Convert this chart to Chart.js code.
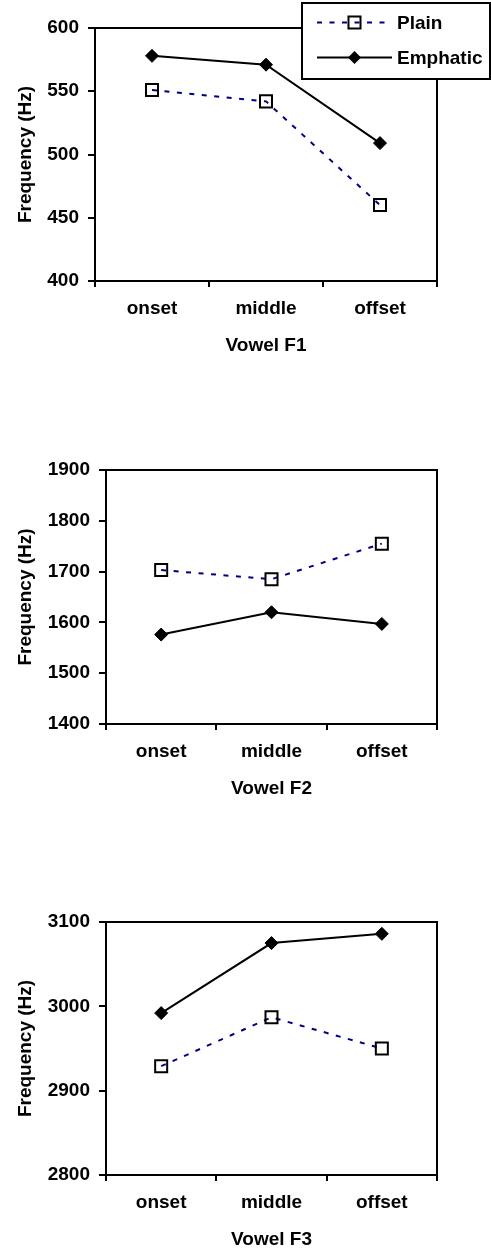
<!DOCTYPE html>
<html>
<head>
<meta charset="utf-8">
<script src="https://cdn.jsdelivr.net/npm/chart.js@4/dist/chart.umd.min.js"></script>
<style>
  html, body { margin: 0; padding: 0; background: #fff; }
  #wrap { position: relative; width: 491px; height: 1252px; overflow: hidden; }
  canvas { position: absolute; left: 0; }
</style>
</head>
<body>
<div id="wrap">
  <canvas id="f1" width="491" height="400" style="top:0px"></canvas>
  <canvas id="f2" width="491" height="410" style="top:420px"></canvas>
  <canvas id="f3" width="491" height="412" style="top:840px"></canvas>
</div>
<script>
// data
const categories = ["onset", "middle", "offset"];
const seriesNames = ["Plain", "Emphatic"];

const f1Plain = [551, 542, 460];
const f1Emphatic = [578, 571, 509];
const f2Plain = [1703, 1685, 1755];
const f2Emphatic = [1576, 1620, 1597];
const f3Plain = [2929, 2987, 2950];
const f3Emphatic = [2992, 3075, 3086];

const f1Ticks = { min: 400, max: 600, step: 50 };
const f2Ticks = { min: 1400, max: 1900, step: 100 };
const f3Ticks = { min: 2800, max: 3100, step: 100 };

const yTitle = "Frequency (Hz)";

Chart.defaults.font.family = "'Liberation Sans', Arial, sans-serif";
Chart.defaults.font.size = 19;
Chart.defaults.font.weight = "bold";
Chart.defaults.color = "#000";

// box around the plot area (top + right sides)
const framePlugin = {
  id: "frame",
  afterDraw(chart) {
    const { ctx, chartArea: a } = chart;
    ctx.save();
    ctx.strokeStyle = "#000";
    ctx.lineWidth = 2;
    ctx.strokeRect(a.left, a.top, a.right - a.left, a.bottom - a.top);
    ctx.restore();
  },
};

// legend box that sits over the top-right corner, like the original
const cornerLegend = {
  id: "cornerLegend",
  afterDraw(chart, args, opts) {
    const ctx = chart.ctx;
    ctx.save();
    ctx.fillStyle = "#fff";
    ctx.fillRect(opts.left, opts.top, opts.width, opts.height);
    ctx.strokeStyle = "#000";
    ctx.lineWidth = 2;
    ctx.strokeRect(opts.left, opts.top, opts.width, opts.height);

    chart.data.datasets.forEach((ds, i) => {
      const y = opts.rows[i];
      ctx.save();
      ctx.strokeStyle = ds.borderColor;
      ctx.lineWidth = ds.borderWidth;
      ctx.setLineDash(ds.borderDash || []);
      ctx.beginPath();
      ctx.moveTo(opts.lineFrom, y);
      ctx.lineTo(opts.lineTo, y);
      ctx.stroke();
      ctx.restore();

      const mx = (opts.lineFrom + opts.lineTo) / 2;
      ctx.beginPath();
      if (ds.pointStyle === "rect") {
        const s = ds.pointRadius * Math.SQRT1_2;
        ctx.rect(mx - s, y - s, 2 * s, 2 * s);
        ctx.lineWidth = ds.pointBorderWidth;
        ctx.strokeStyle = ds.pointBorderColor;
        ctx.stroke();
      } else {
        const r = ds.pointRadius;
        ctx.moveTo(mx, y - r);
        ctx.lineTo(mx + r, y);
        ctx.lineTo(mx, y + r);
        ctx.lineTo(mx - r, y);
        ctx.closePath();
        ctx.fillStyle = ds.pointBackgroundColor;
        ctx.fill();
      }

      ctx.fillStyle = "#000";
      ctx.textBaseline = "middle";
      ctx.textAlign = "left";
      ctx.font = "bold 19px 'Liberation Sans', Arial, sans-serif";
      ctx.fillText(ds.label, opts.textX, y + 1);
    });
    ctx.restore();
  },
};

function makeDatasets(plain, emphatic) {
  return [
    {
      label: seriesNames[0],
      data: plain,
      borderColor: "#000080",
      borderWidth: 2,
      borderDash: [5, 7.5],
      pointStyle: "rect",
      pointRadius: 8.5,
      pointBorderWidth: 2,
      pointBorderColor: "#000",
      pointBackgroundColor: "rgba(0,0,0,0)",
      tension: 0,
    },
    {
      label: seriesNames[1],
      data: emphatic,
      borderColor: "#000",
      borderWidth: 2,
      pointStyle: "rectRot",
      pointRadius: 6.5,
      pointBorderWidth: 1,
      pointBorderColor: "#000",
      pointBackgroundColor: "#000",
      tension: 0,
    },
  ];
}

// box = plot area in canvas pixels
function makeChart(id, plain, emphatic, ticks, xTitle, box, withLegend) {
  const canvas = document.getElementById(id);
  const h = canvas.height;
  const xHeight = 76;
  const plugins = [framePlugin];
  if (withLegend) plugins.push(cornerLegend);

  return new Chart(canvas, {
    type: "line",
    data: { labels: categories, datasets: makeDatasets(plain, emphatic) },
    plugins,
    options: {
      responsive: false,
      animation: false,
      devicePixelRatio: 1,
      layout: {
        padding: { top: box.top, right: 491 - box.right, left: 0, bottom: h - box.bottom - xHeight },
      },
      plugins: {
        legend: { display: false },
        tooltip: { enabled: false },
        cornerLegend: {
          left: 302, top: 3, width: 188, height: 76,
          rows: [22.5, 57.5], lineFrom: 317, lineTo: 392, textX: 397,
        },
      },
      scales: {
        x: {
          type: "category",
          offset: true,
          afterFit: (s) => { s.height = xHeight; },
          grid: { offset: true, drawOnChartArea: false, tickLength: 6, color: "#000", lineWidth: 2 },
          border: { display: true, color: "#000", width: 2 },
          ticks: { padding: 10, maxRotation: 0 },
          title: { display: true, text: xTitle, padding: 0 },
        },
        y: {
          min: ticks.min,
          max: ticks.max,
          afterFit: (s) => { s.width = box.left; },
          grid: { drawOnChartArea: false, tickLength: 7, color: "#000", lineWidth: 2 },
          border: { display: true, color: "#000", width: 2 },
          ticks: { stepSize: ticks.step, padding: 9, callback: (v) => String(v) },
          title: { display: true, text: yTitle, padding: { top: 14, bottom: 0 } },
        },
      },
    },
  });
}

makeChart("f1", f1Plain, f1Emphatic, f1Ticks, "Vowel F1",
  { left: 95, right: 437, top: 28, bottom: 281 }, true);
makeChart("f2", f2Plain, f2Emphatic, f2Ticks, "Vowel F2",
  { left: 106, right: 437, top: 50, bottom: 304 }, false);
makeChart("f3", f3Plain, f3Emphatic, f3Ticks, "Vowel F3",
  { left: 106, right: 437, top: 82, bottom: 335 }, false);
</script>
</body>
</html>
